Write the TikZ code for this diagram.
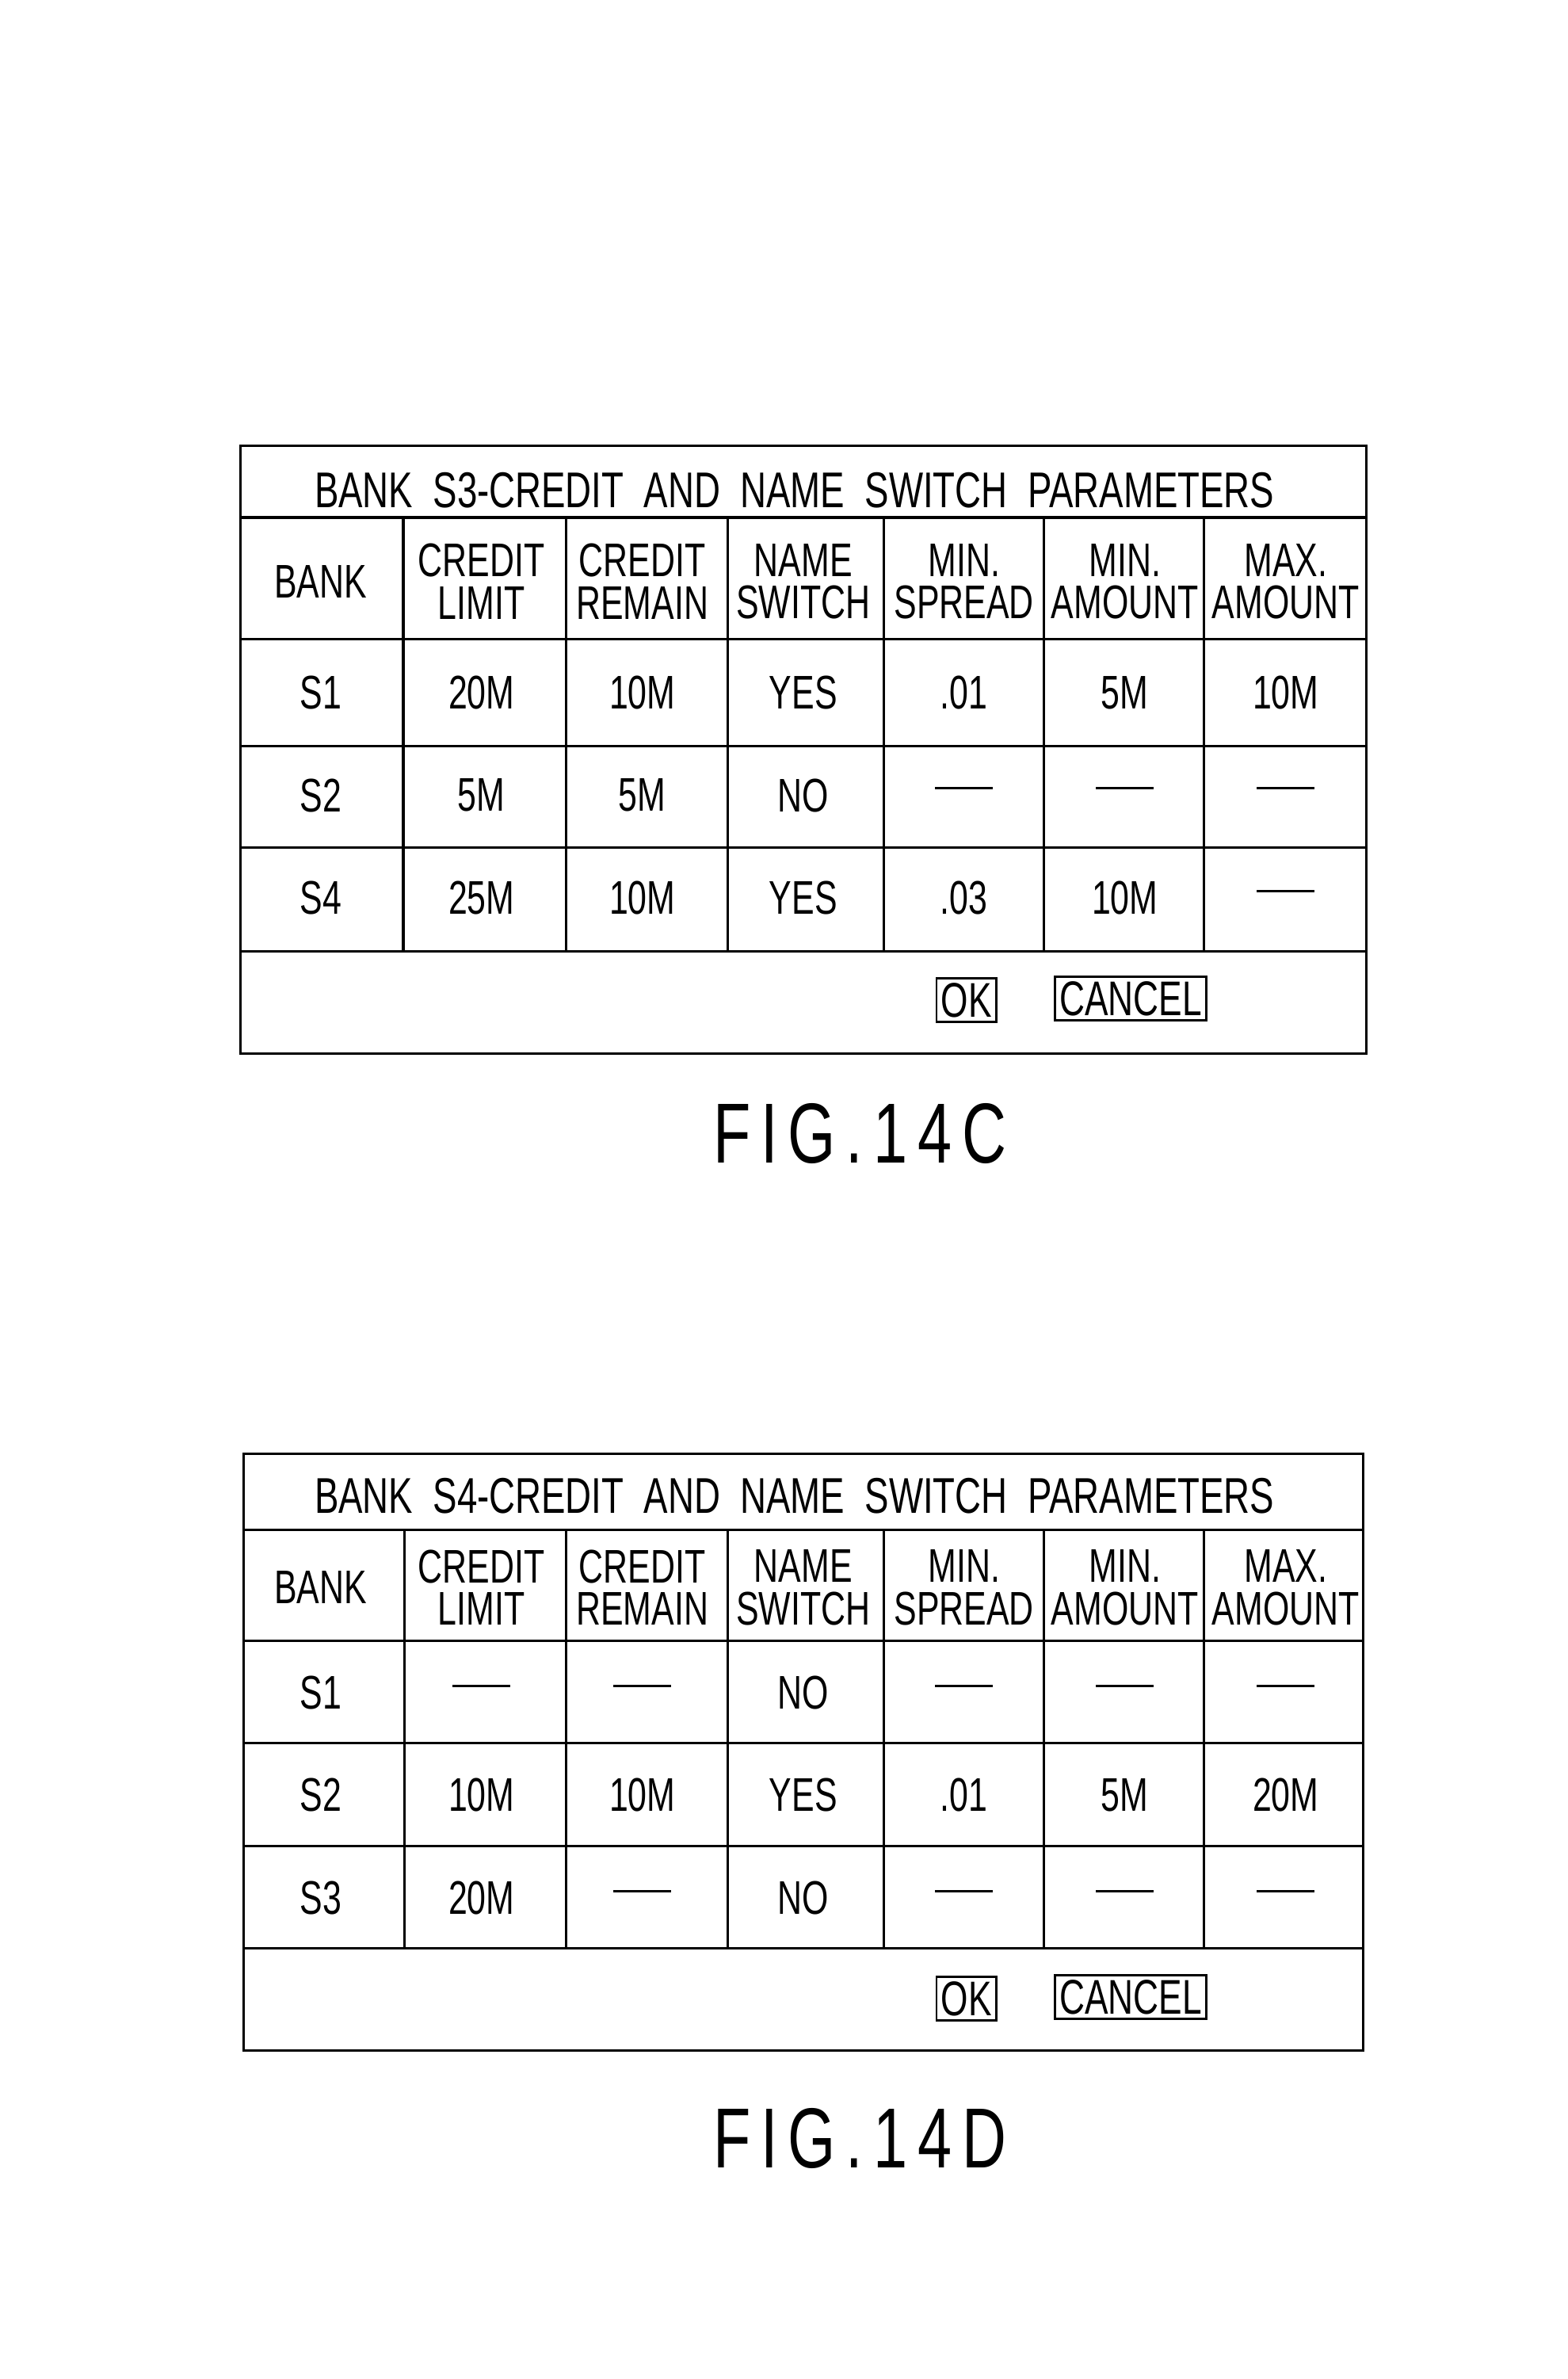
\documentclass[tikz,border=0pt]{standalone}
\usepackage{fontspec}
\setmainfont{Liberation Sans}[FakeStretch=0.72]
\newcommand{\nil}{\rule[9pt]{38pt}{1.6pt}}
\begin{document}
\begin{tikzpicture}[x=1pt,y=-1pt,line width=1.6pt,
    cell/.style={font=\fontsize{31}{28}\selectfont, align=center, inner sep=0pt},
    title/.style={font=\fontsize{33}{30}\selectfont, inner sep=0pt},
    btn/.style={draw, line width=1.4pt, font=\fontsize{32}{28}\selectfont, inner sep=3pt},
    fig/.style={font=\fontsize{56}{56}\selectfont\addfontfeature{LetterSpace=12}}]
    \useasboundingbox (0,0) rectangle (1030,1563);

    % ---------------- FIG. 14C ----------------
    \draw (158,293) rectangle (898,692);
    \foreach \y in {340,420,490,557,625} \draw (158,\y) -- (898,\y);
    \foreach \x in {265,372,478,581,686,791} \draw (\x,340) -- (\x,625);
    \node[title] (titleC) at (522,322) {BANK\ \ S3-CREDIT\ \ AND\ \ NAME\ \ SWITCH\ \ PARAMETERS};
    \foreach \t [count=\i] in {BANK,CREDIT\\LIMIT,CREDIT\\REMAIN,NAME\\SWITCH,MIN.\\SPREAD,MIN.\\AMOUNT,MAX.\\AMOUNT}
        \node[cell] (hC\i) at ({105.7*\i+105},382) {\t};
    \foreach \a/\b/\c/\d/\e/\f/\g [count=\r] in {S1/20M/10M/YES/.01/5M/10M, S2/5M/5M/NO/\nil/\nil/\nil, S4/25M/10M/YES/.03/10M/\nil}
        \foreach \t [count=\i] in {\a,\b,\c,\d,\e,\f,\g}
            \node[cell] (cC\r\i) at ({105.7*\i+105},{455+67.5*(\r-1)}) {\t};
    \node[btn] (okC) at (635,657) {OK};
    \node[btn] (cancelC) at (743,656) {CANCEL};
    \node[fig] (figC) at (565,745) {FIG.14C};

    % ---------------- FIG. 14D ----------------
    \draw (160,955) rectangle (896,1347);
    \foreach \y in {1005,1078,1145,1213,1280} \draw (160,\y) -- (896,\y);
    \foreach \x in {266,372,478,581,686,791} \draw (\x,1005) -- (\x,1280);
    \node[title] (titleD) at (522,983) {BANK\ \ S4-CREDIT\ \ AND\ \ NAME\ \ SWITCH\ \ PARAMETERS};
    \foreach \t [count=\i] in {BANK,CREDIT\\LIMIT,CREDIT\\REMAIN,NAME\\SWITCH,MIN.\\SPREAD,MIN.\\AMOUNT,MAX.\\AMOUNT}
        \node[cell] (hD\i) at ({105.7*\i+105},1043) {\t};
    \foreach \a/\b/\c/\d/\e/\f/\g [count=\r] in {S1/\nil/\nil/NO/\nil/\nil/\nil, S2/10M/10M/YES/.01/5M/20M, S3/20M/\nil/NO/\nil/\nil/\nil}
        \foreach \t [count=\i] in {\a,\b,\c,\d,\e,\f,\g}
            \node[cell] (cD\r\i) at ({105.7*\i+105},{1112+67.5*(\r-1)}) {\t};
    \node[btn] (okD) at (635,1313) {OK};
    \node[btn] (cancelD) at (743,1312) {CANCEL};
    \node[fig] (figD) at (565,1405) {FIG.14D};
\end{tikzpicture}
\end{document}
